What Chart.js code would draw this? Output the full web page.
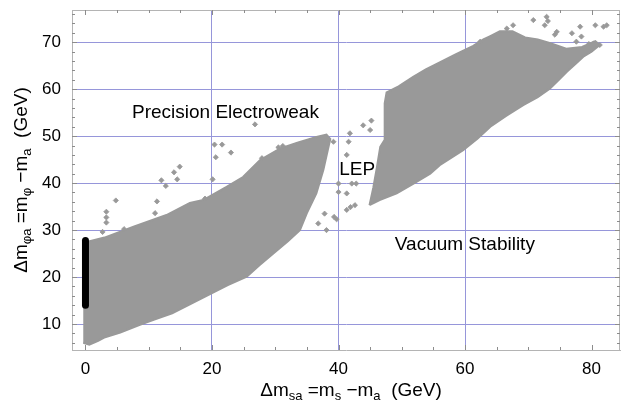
<!DOCTYPE html>
<html>
<head>
<meta charset="utf-8">
<script src="https://cdn.jsdelivr.net/npm/chart.js@4.4.1/dist/chart.umd.min.js"></script>
<style>
  html, body { margin: 0; padding: 0; background: #fff; }
</style>
</head>
<body>
<canvas id="chart" width="621" height="400"></canvas>
<script>
// --- Values (GeV) ---
const xTicks = [0, 20, 40, 60, 80];
const yTicks = [10, 20, 30, 40, 50, 60, 70];
const xGridAt = [20, 40, 60];

// outline of the dense low-mass band (walked round the edge)
const lowBand = [
  [-0.35, 6.0], [0.6, 5.6], [2, 6.4], [3.1, 7.2], [5.5, 8.2], [8.5, 9.8], [11, 11],
  [13.7, 12.3], [16.5, 14.2], [20, 16.6], [22.5, 18.3], [25.5, 20.1], [27.5, 22.5],
  [29.7, 25], [32, 27.6], [33.9, 30], [35, 33.6], [36.5, 37.8], [37.6, 42.8],
  [38.3, 47], [38.7, 49.4], [38.1, 50.3], [36.5, 49.8], [33.5, 48.6], [30.8, 47.4],
  [27.6, 44.9], [24.9, 41.3], [22.3, 39.2], [18.6, 36.4], [16.5, 35.8], [12.8, 33.2],
  [7.6, 30.7], [3, 28.4], [0.5, 27.6], [-0.35, 27.3]
];

// outline of the dense high-mass band
const highBand = [
  [44.9, 35.3], [46.5, 36.4], [49.2, 37.8], [52, 40], [54.5, 42], [56, 43.8],
  [59.7, 47], [62, 49.5], [64, 52], [66.5, 54.3], [69.2, 56.6], [71.5, 58.3],
  [73.4, 60.1], [75, 62.2], [76.1, 63.7], [77.5, 65.4], [78.7, 66.9], [80, 68],
  [81.3, 69.4], [80.6, 70.2], [78.5, 69.0], [76, 68.6], [73.5, 69.8], [71.5, 70.6],
  [69.5, 71.0], [67.5, 72.3], [65.5, 72.3], [64, 71.3], [62.9, 70.6], [61.3, 69.2],
  [58.5, 67.4], [56, 65.7], [53.8, 64.2], [51.8, 62.6], [49.5, 60.6], [47.6, 59.3],
  [47.3, 57], [47.3, 53], [47.3, 49.2], [46.6, 47.7], [46, 42.8], [45.5, 39], [44.9, 35.3]
];

// isolated scan points outside the dense bands
const loosePoints = [
  [4.8, 36.3], [3.3, 33.9], [3.3, 32.7], [3.3, 31.6], [2.7, 29.6], [6.1, 30.2],
  [11.3, 36.1], [11.0, 33.6], [12.0, 40.6], [12.7, 39.4], [14.0, 42.3], [14.9, 43.5],
  [14.5, 40.8], [18.9, 36.7], [20.1, 40.8], [20.4, 48.2], [21.6, 48.2], [23.0, 46.5],
  [20.6, 45.5], [26.8, 52.5], [27.9, 45.3], [30.5, 47.6], [31.2, 47.9],
  [38.1, 30.0], [39.3, 32.8], [39.7, 32.3], [36.8, 31.4], [37.8, 33.5], [39.2, 48.8],
  [43.9, 52.3], [45.2, 53.3], [45.0, 51.3], [41.8, 50.6], [41.6, 48.8], [41.3, 46.0],
  [40.0, 39.9], [42.1, 39.9], [42.8, 39.9], [40.0, 38.1], [41.3, 37.8], [42.6, 35.3],
  [41.9, 34.9], [41.3, 34.3],
  [70.8, 74.7], [72.9, 75.4], [73.1, 74.5], [72.6, 73.6], [74.5, 72.2], [74.2, 71.6],
  [76.9, 71.9], [78.2, 73.3], [78.4, 71.2], [80.6, 73.6], [82.4, 73.6], [81.9, 73.3],
  [81.3, 69.4], [80.3, 69.7], [66.6, 72.9], [67.6, 73.6], [62.4, 70.1], [77.6, 70.1],
  [79.6, 69.6]
];

// black segment at zero mass splitting
const zeroSplit = [[0, 14.0], [0, 27.8]];

const toXY = pts => pts.map(([x, y]) => ({ x, y }));

const GRAY = '#999999';
const GRID = 'rgb(150,150,218)';
const FRAME = '#b4b4b4';
const FONT = '"Liberation Sans", Arial, Helvetica, sans-serif';

// --- Frame, inward ticks, axis titles and region labels ---
const decorPlugin = {
  id: 'decor',
  afterDraw(chart) {
    const { ctx, chartArea: a, scales: { x, y } } = chart;
    ctx.save();

    // top / right frame
    ctx.strokeStyle = FRAME;
    ctx.lineWidth = 1;
    ctx.beginPath();
    ctx.moveTo(a.left, a.top + 0.5); ctx.lineTo(a.right, a.top + 0.5);
    ctx.moveTo(a.right - 0.5, a.top); ctx.lineTo(a.right - 0.5, a.bottom);
    ctx.stroke();

    // inward tick marks
    ctx.strokeStyle = '#8c8c8c';
    ctx.beginPath();
    for (let v = 0; v <= 80; v += 5) {
      const px = Math.round(x.getPixelForValue(v)) + 0.5;
      const len = v % 20 === 0 ? 5 : 3;
      ctx.moveTo(px, a.bottom); ctx.lineTo(px, a.bottom - len);
      ctx.moveTo(px, a.top); ctx.lineTo(px, a.top + len);
    }
    for (let v = 6; v <= 76; v += 2) {
      const py = Math.round(y.getPixelForValue(v)) + 0.5;
      const len = v % 10 === 0 ? 5 : 3;
      ctx.moveTo(a.left, py); ctx.lineTo(a.left + len, py);
      ctx.moveTo(a.right, py); ctx.lineTo(a.right - len, py);
    }
    ctx.stroke();

    // region labels
    ctx.fillStyle = '#000';
    ctx.font = '19px ' + FONT;
    ctx.textBaseline = 'alphabetic';
    ctx.textAlign = 'left';
    ctx.fillText('Precision Electroweak', x.getPixelForValue(7.35), y.getPixelForValue(53.8));
    ctx.fillText('LEP', x.getPixelForValue(40.1), y.getPixelForValue(41.7));
    ctx.fillText('Vacuum Stability', x.getPixelForValue(48.9), y.getPixelForValue(25.7));

    // axis titles with subscripts
    const xTitle = [['Δm', 0], ['sa', 1], [' =m', 0], ['s', 1], [' −m', 0], ['a', 1], ['  (GeV)', 0]];
    const yTitle = [['Δm', 0], ['φa', 1], [' =m', 0], ['φ', 1], [' −m', 0], ['a', 1], ['  (GeV)', 0]];
    drawTitle(ctx, xTitle, 351, 396, false);
    drawTitle(ctx, yTitle, 27, 180, true);

    ctx.restore();
  }
};

function drawTitle(ctx, parts, cx, cy, rotated) {
  const mainFont = '19px ' + FONT;
  const subFont = '13px ' + FONT;
  let total = 0;
  parts.forEach(([t, sub]) => {
    ctx.font = sub ? subFont : mainFont;
    total += ctx.measureText(t).width;
  });
  ctx.save();
  ctx.translate(cx, cy);
  if (rotated) ctx.rotate(-Math.PI / 2);
  let pos = -total / 2;
  parts.forEach(([t, sub]) => {
    ctx.font = sub ? subFont : mainFont;
    ctx.fillText(t, pos, sub ? 4 : 0);
    pos += ctx.measureText(t).width;
  });
  ctx.restore();
}

// drop the label overhang padding so the plot frame sits where the reference has it
function noOverhang(s) {
  s.paddingTop = 0; s.paddingBottom = 0; s.paddingLeft = 0; s.paddingRight = 0;
}

new Chart(document.getElementById('chart'), {
  type: 'scatter',
  data: {
    datasets: [
      {
        data: toXY(zeroSplit),
        showLine: true,
        borderColor: '#000',
        borderWidth: 7,
        borderCapStyle: 'round',
        pointRadius: 0
      },
      {
        data: toXY(loosePoints),
        pointStyle: 'rectRot',
        pointRadius: 2.6,
        backgroundColor: GRAY,
        borderColor: GRAY,
        borderWidth: 0.8
      },
      {
        data: toXY(lowBand),
        showLine: true,
        fill: 'shape',
        backgroundColor: GRAY,
        borderColor: GRAY,
        borderWidth: 2,
        pointRadius: 0
      },
      {
        data: toXY(highBand),
        showLine: true,
        fill: 'shape',
        backgroundColor: GRAY,
        borderColor: GRAY,
        borderWidth: 2,
        pointRadius: 0
      }
    ]
  },
  options: {
    responsive: false,
    devicePixelRatio: 1,
    animation: false,
    layout: { autoPadding: false, padding: { top: 10, right: 1, left: 0, bottom: 0 } },
    plugins: { legend: { display: false }, tooltip: { enabled: false } },
    scales: {
      x: {
        type: 'linear',
        min: -2.13,
        max: 84.5,
        afterBuildTicks: s => { s.ticks = xTicks.map(v => ({ value: v })); },
        afterFit: s => { s.height = 50; noOverhang(s); },
        grid: {
          drawTicks: false,
          color: c => (c.tick && xGridAt.includes(c.tick.value)) ? GRID : 'rgba(0,0,0,0)',
          lineWidth: 1
        },
        border: { display: true, color: FRAME, width: 1 },
        ticks: { color: '#000', padding: 9, font: { family: FONT, size: 17 } }
      },
      y: {
        type: 'linear',
        min: 4.47,
        max: 76.85,
        afterBuildTicks: s => { s.ticks = yTicks.map(v => ({ value: v })); },
        afterFit: s => { s.width = 72; noOverhang(s); },
        grid: { drawTicks: false, color: GRID, lineWidth: 1 },
        border: { display: true, color: FRAME, width: 1 },
        ticks: { color: '#000', padding: 11, font: { family: FONT, size: 17 } }
      }
    }
  },
  plugins: [decorPlugin]
});
</script>
</body>
</html>
